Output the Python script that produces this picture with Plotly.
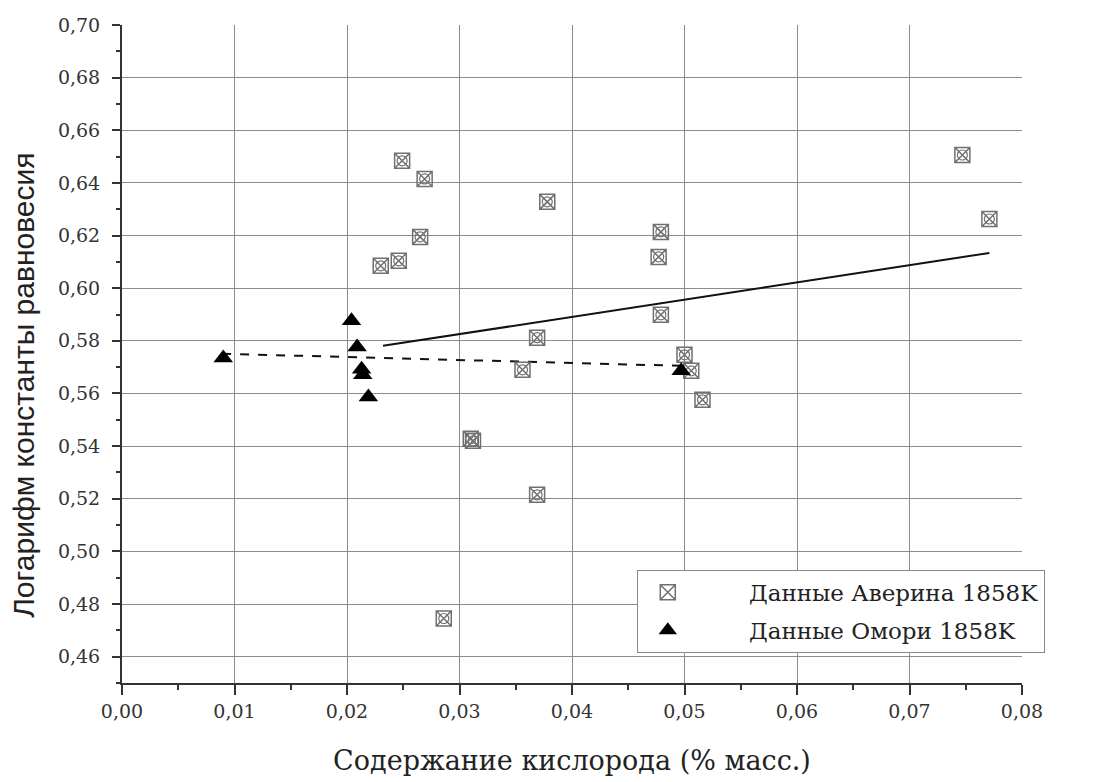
import plotly.graph_objects as go

# Данные Аверина 1858K
averin_x = [0.0249, 0.0269, 0.0265, 0.0246, 0.0230, 0.0378, 0.0369, 0.0356, 0.0310, 0.0312,
            0.0369, 0.0286, 0.0479, 0.0477, 0.0479, 0.0500, 0.0506, 0.0516, 0.0747, 0.0771]
averin_y = [0.6484, 0.6415, 0.6195, 0.6104, 0.6085, 0.6328, 0.5812, 0.5690, 0.5428, 0.5420,
            0.5215, 0.4745, 0.6214, 0.6119, 0.5899, 0.5747, 0.5686, 0.5576, 0.6506, 0.6263]

# Данные Омори 1858K
omori_x = [0.0090, 0.0204, 0.0209, 0.0213, 0.0214, 0.0219, 0.0497]
omori_y = [0.5735, 0.5876, 0.5777, 0.5692, 0.5671, 0.5587, 0.5686]

# trend lines (endpoints)
averin_fit_x = [0.0232, 0.0771]
averin_fit_y = [0.5781, 0.6134]
omori_fit_x = [0.0089, 0.0497]
omori_fit_y = [0.5751, 0.5705]

name_averin = "Данные Аверина 1858K"
name_omori = "Данные Омори 1858K"
x_title = "Содержание кислорода (% масс.)"
y_title = "Логарифм константы равновесия"

SERIF = "DejaVu Serif"
GRAY = "#707070"
PAD = "\u00a0" * 7

fig = go.Figure()

fig.add_trace(go.Scatter(x=averin_fit_x, y=averin_fit_y, mode="lines",
                         line=dict(color="#111111", width=2), showlegend=False, hoverinfo="skip"))
fig.add_trace(go.Scatter(x=omori_fit_x, y=omori_fit_y, mode="lines",
                         line=dict(color="#111111", width=2, dash="9px,9px"), showlegend=False,
                         hoverinfo="skip"))

fig.add_trace(go.Scatter(x=averin_x, y=averin_y, mode="markers", name=PAD + name_averin,
                         legendgroup="a",
                         marker=dict(symbol="square-x-open", size=15, color=GRAY,
                                     line=dict(color=GRAY, width=1.5))))
fig.add_trace(go.Scatter(x=averin_x, y=averin_y, mode="markers", showlegend=False, legendgroup="a",
                         marker=dict(symbol="circle-open", size=10, color=GRAY,
                                     line=dict(color=GRAY, width=1.2))))
fig.add_trace(go.Scatter(x=omori_x, y=omori_y, mode="markers", name=PAD + name_omori,
                         legendgroup="b",
                         marker=dict(symbol="triangle-up", size=17, color="#000000")))

axis_common = dict(
    showline=True, linecolor="#333333", linewidth=2,
    ticks="outside", tickcolor="#333333", tickwidth=2,
    showgrid=True, gridcolor="#8c8c8c", gridwidth=1,
    zeroline=False,
    tickfont=dict(family=SERIF, size=19, color="#333333"),
)

fig.update_xaxes(
    **axis_common,
    range=[0, 0.08], dtick=0.01, tick0=0, tickformat=".2f", ticklen=10,
    minor=dict(dtick=0.005, ticklen=5, tickcolor="#333333", showgrid=False),
    title=dict(text=x_title, font=dict(family=SERIF, size=27, color="#222222"), standoff=30),
)
fig.update_yaxes(
    **axis_common,
    range=[0.45, 0.70], dtick=0.02, tick0=0.46, tickformat=".2f", ticklen=8,
    ticklabelstandoff=8,
    minor=dict(dtick=0.01, ticklen=4, tickcolor="#333333", showgrid=False),
)

fig.add_annotation(
    text=y_title, textangle=-90, showarrow=False,
    xref="paper", yref="paper", x=-0.109, y=0.453, xanchor="center", yanchor="middle",
    font=dict(family="Liberation Sans", size=30, color="#222222"),
)

fig.update_layout(
    width=1094, height=782,
    margin=dict(l=122, r=72, t=25, b=99),
    paper_bgcolor="white", plot_bgcolor="white",
    separators=", ",
    showlegend=True,
    legend=dict(
        x=0.572, y=0.172, xanchor="left", yanchor="top",
        bgcolor="white", bordercolor="#888888", borderwidth=1,
        font=dict(family=SERIF, size=23, color="#222222"),
        tracegroupgap=5, itemwidth=50,
    ),
)

fig.write_html("out.html")
